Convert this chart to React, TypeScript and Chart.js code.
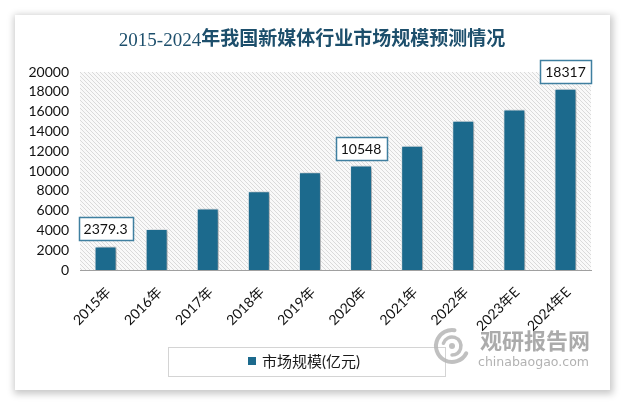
import React, { useEffect, useRef } from "react";
import { Chart, registerables } from "chart.js";

Chart.register(...registerables);

const titleYears = "2015-2024";
const titleRest = "年我国新媒体行业市场规模预测情况";
const categories = ["2015年", "2016年", "2017年", "2018年", "2019年", "2020年", "2021年", "2022年", "2023年E", "2024年E"];
const marketSize = [2379.3, 4150, 6200, 7950, 9870, 10548, 12550, 15080, 16200, 18317];
const labelledIndexes = [0, 5, 9];
const seriesLabel = "市场规模(亿元)";
const yMax = 20000;
const yStep = 2000;
const watermarkCn = "观研报告网";
const watermarkEn = "chinabaogao.com";

const BAR_COLOR = "#1c6a8d";
const TITLE_COLOR = "#1d4f6c";
const LATIN = "Lato, 'Noto Sans CJK SC', sans-serif";

const titlePlugin = {
  id: "customTitle",
  afterDraw(chart: any) {
    const { ctx } = chart;
    ctx.save();
    ctx.fillStyle = TITLE_COLOR;
    ctx.textAlign = "left";
    ctx.textBaseline = "alphabetic";
    const f1 = "19px 'Liberation Serif', serif";
    const f2 = "bold 19px 'Noto Sans CJK SC', sans-serif";
    ctx.font = f1;
    const w1 = ctx.measureText(titleYears).width;
    ctx.font = f2;
    const w2 = ctx.measureText(titleRest).width;
    const start = 312 - (w1 + w2) / 2;
    ctx.font = f1;
    ctx.fillText(titleYears, start, 46);
    ctx.font = f2;
    ctx.fillText(titleRest, start + w1, 45);
    ctx.restore();
  },
};

const hatchPlugin = {
  id: "hatch",
  beforeDraw(chart: any) {
    const { ctx, chartArea } = chart;
    const c = document.createElement("canvas");
    c.width = 4;
    c.height = 4;
    const p = c.getContext("2d")!;
    p.fillStyle = "#f9f9f9";
    p.fillRect(0, 0, 4, 4);
    p.strokeStyle = "#dadada";
    p.lineWidth = 1;
    p.beginPath();
    p.moveTo(-1, -1);
    p.lineTo(5, 5);
    p.moveTo(-1, 3);
    p.lineTo(1, 5);
    p.moveTo(3, -1);
    p.lineTo(5, 1);
    p.stroke();
    const pat = ctx.createPattern(c, "repeat");
    ctx.save();
    ctx.fillStyle = pat;
    ctx.fillRect(chartArea.left, chartArea.top, chartArea.right - chartArea.left, chartArea.bottom - chartArea.top);
    ctx.restore();
  },
};

const shadowPlugin = {
  id: "barShadow",
  beforeDatasetDraw(chart: any) {
    const ctx = chart.ctx;
    ctx.save();
    ctx.shadowColor = "rgba(0,0,0,0.35)";
    ctx.shadowBlur = 4;
    ctx.shadowOffsetX = 2;
    ctx.shadowOffsetY = 1;
  },
  afterDatasetDraw(chart: any) {
    chart.ctx.restore();
  },
};

const valueLabelPlugin = {
  id: "valueLabels",
  afterDatasetsDraw(chart: any) {
    const { ctx } = chart;
    const meta = chart.getDatasetMeta(0);
    ctx.save();
    ctx.font = `14px ${LATIN}`;
    ctx.textAlign = "center";
    ctx.textBaseline = "middle";
    labelledIndexes.forEach((i) => {
      const el = meta.data[i];
      const text = String(marketSize[i]);
      const w = ctx.measureText(text).width + 10;
      const h = 23;
      const cx = el.x;
      const bottom = el.y - 6;
      ctx.fillStyle = "#ffffff";
      ctx.fillRect(Math.round(cx - w / 2) + 0.5, Math.round(bottom - h) + 0.5, Math.round(w), h);
      ctx.strokeStyle = "#3f7fa0";
      ctx.lineWidth = 1.5;
      ctx.strokeRect(Math.round(cx - w / 2) + 0.5, Math.round(bottom - h) + 0.5, Math.round(w), h);
      ctx.fillStyle = "#111111";
      ctx.fillText(text, cx, bottom - h / 2 + 1);
    });
    ctx.restore();
  },
};

const legendBoxPlugin = {
  id: "legendBox",
  afterDraw(chart: any) {
    const { ctx } = chart;
    ctx.save();
    ctx.strokeStyle = "#d4d4d4";
    ctx.lineWidth = 1;
    ctx.strokeRect(168.5, 347.5, 277, 29);
    ctx.fillStyle = BAR_COLOR;
    ctx.fillRect(248, 357, 8, 8);
    ctx.fillStyle = "#1a1a1a";
    ctx.font = `15px ${LATIN}`;
    ctx.textAlign = "left";
    ctx.textBaseline = "middle";
    ctx.fillText(seriesLabel, 262, 362);
    ctx.restore();
  },
};

const watermarkPlugin = {
  id: "watermark",
  afterDraw(chart: any) {
    const { ctx } = chart;
    ctx.save();
    ctx.globalAlpha = 0.85;
    ctx.strokeStyle = "#b5b5b5";
    ctx.lineCap = "round";
    ctx.lineWidth = 4;
    ctx.beginPath();
    ctx.arc(452, 346, 16, Math.PI * 0.15, Math.PI * 1.55);
    ctx.stroke();
    ctx.lineWidth = 3.5;
    ctx.beginPath();
    ctx.arc(452, 346, 9, Math.PI * 1.1, Math.PI * 2.5);
    ctx.stroke();
    ctx.fillStyle = "#b5b5b5";
    ctx.beginPath();
    ctx.arc(452, 346, 3, 0, Math.PI * 2);
    ctx.fill();
    ctx.fillStyle = "#9c9c9c";
    ctx.font = "bold 22px 'Noto Sans CJK SC', sans-serif";
    ctx.textAlign = "left";
    ctx.textBaseline = "alphabetic";
    ctx.fillText(watermarkCn, 480, 349, 110);
    ctx.fillStyle = "#a4a4a4";
    ctx.font = "13px 'DejaVu Sans', sans-serif";
    ctx.fillText(watermarkEn, 478, 366, 111);
    ctx.restore();
  },
};

export default function App() {
  const canvasRef = useRef<HTMLCanvasElement | null>(null);

  useEffect(() => {
    if (!canvasRef.current) return;
    const chart = new Chart(canvasRef.current, {
      type: "bar",
      data: {
        labels: categories,
        datasets: [
          {
            label: seriesLabel,
            data: marketSize,
            backgroundColor: BAR_COLOR,
            borderColor: "rgba(235,242,246,0.9)",
            borderWidth: 1,
            categoryPercentage: 1,
            barPercentage: 0.43,
          },
        ],
      },
      options: {
        responsive: false,
        animation: false,
        devicePixelRatio: 1,
        layout: { padding: { left: 14, right: 34, top: 72, bottom: 0 } },
        plugins: {
          legend: { display: false },
          tooltip: { enabled: false },
          title: { display: false },
        },
        scales: {
          x: {
            grid: { display: false, drawTicks: false },
            border: { display: true, color: "#a0a0a0", width: 1 },
            ticks: {
              color: "#111111",
              font: { size: 14, family: LATIN },
              minRotation: 45,
              maxRotation: 45,
              padding: 14,
              labelOffset: 3,
              autoSkip: false,
            },
            afterFit: (scale: any) => {
              scale.height = 132;
            },
          },
          y: {
            min: 0,
            max: yMax,
            grid: { display: false, drawTicks: false },
            border: { display: false },
            ticks: {
              stepSize: yStep,
              color: "#111111",
              font: { size: 14, family: LATIN },
              padding: 11,
              callback: (v: any) => String(v),
            },
            afterFit: (scale: any) => {
              scale.width = 66;
            },
          },
        },
      },
      plugins: [hatchPlugin, shadowPlugin, valueLabelPlugin, legendBoxPlugin, watermarkPlugin, titlePlugin],
    });
    return () => chart.destroy();
  }, []);

  return (
    <div style={{ position: "fixed", left: 0, top: 0, width: 625, height: 402, background: "#ffffff", overflow: "hidden" }}>
      <div
        style={{
          position: "absolute",
          left: 15,
          top: 15,
          width: 595,
          height: 375,
          background: "#ffffff",
          boxShadow: "1px 2px 7px 2px rgba(0,0,0,0.22)",
        }}
      />
      <canvas ref={canvasRef} width={625} height={402} style={{ position: "absolute", left: 0, top: 0 }} />
    </div>
  );
}
